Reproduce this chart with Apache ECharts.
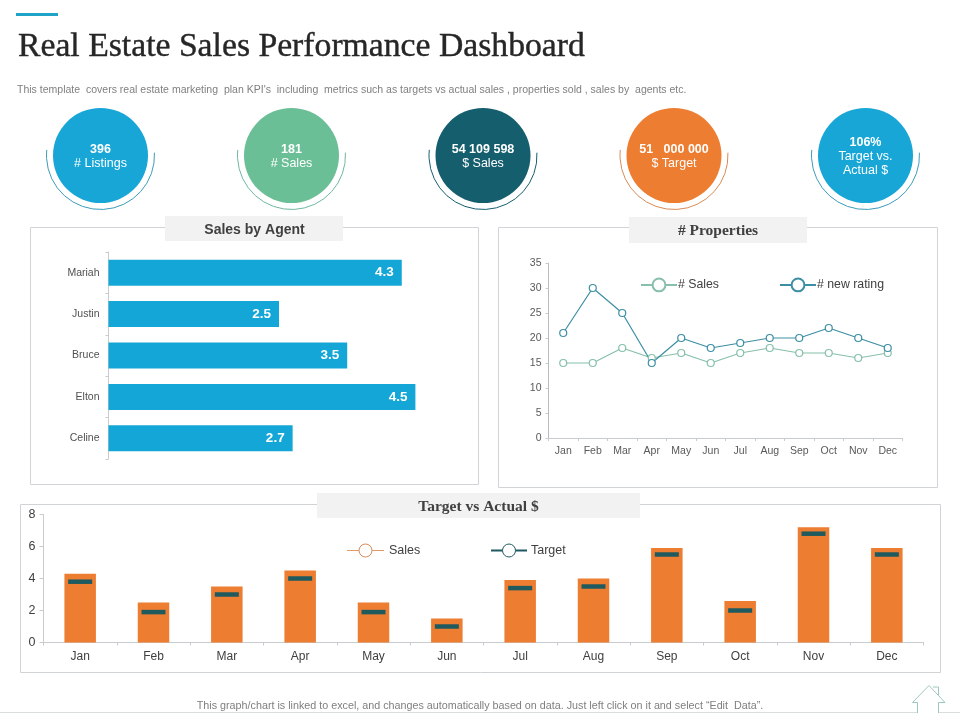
<!DOCTYPE html>
<html><head><meta charset="utf-8">
<style>html,body{margin:0;padding:0;background:#fff}#c{width:960px;height:720px}</style>
<script src="https://cdn.jsdelivr.net/npm/echarts@6/dist/echarts.min.js"></script>
</head><body><div id="c"></div>
<script>
const months = ['Jan','Feb','Mar','Apr','May','Jun','Jul','Aug','Sep','Oct','Nov','Dec'];
const agents = ['Mariah','Justin','Bruce','Elton','Celine'];
const agentSales = [4.3,2.5,3.5,4.5,2.7];
const propSales = [15,15,18,16,17,15,17,18,17,17,16,17];
const propRating = [21,30,25,15,20,18,19,20,20,22,20,18];
const monthSales = [4.3,2.5,3.5,4.5,2.5,1.5,3.9,4.0,5.9,2.6,7.2,5.9];
const monthTarget = [3.8,1.9,3.0,4.0,1.9,1.0,3.4,3.5,5.5,2.0,6.8,5.5];
const kpis = [
  {x:100.5,bold:'396',lines:['# Listings'],color:'#17a6d6',arc:'#3b9bb8'},
  {x:291.5,bold:'181',lines:['# Sales'],color:'#6bbf96',arc:'#6fb7a0'},
  {x:483,bold:'54 109 598',lines:['$ Sales'],color:'#155e6e',arc:'#155e6e'},
  {x:674,bold:'51   000 000',lines:['$ Target'],color:'#ed7d31',arc:'#d98a55'},
  {x:865.5,bold:'106%',lines:['Target vs.','Actual $'],color:'#17a6d6',arc:'#3b9bb8'}
];
const SANS='"Liberation Sans",Arial,sans-serif', SERIF='"Liberation Serif",serif';
const g=[];
const rect=(x,y,w,h,fill,stroke)=>g.push({type:'rect',shape:{x,y,width:w,height:h},style:{fill:fill||'none',stroke:stroke||null,lineWidth:1},silent:true});
const text=(x,y,t,font,fill,align,extra)=>g.push({type:'text',x,y,style:Object.assign({text:t,font,fill,textAlign:align||'left',textVerticalAlign:'middle'},extra||{}),silent:true});
const line=(x1,y1,x2,y2,stroke,w)=>g.push({type:'line',shape:{x1,y1,x2,y2},style:{stroke,lineWidth:w||1},silent:true});
const ring=(cx,cy,r,stroke)=>g.push({type:'circle',shape:{cx,cy,r},style:{fill:'#fff',stroke,lineWidth:1},silent:true});

rect(16,13,42,3,'#1fa3c6');
text(18,47,'Real Estate Sales Performance Dashboard','33.7px '+SERIF,'#262626','left',{stroke:'#262626',lineWidth:0.4});
text(17,90.5,"This template  covers real estate marketing  plan KPI's  including  metrics such as targets vs actual sales , properties sold , sales by  agents etc.",'10.53px '+SANS,'#7f7f7f');

kpis.forEach(k=>{
  g.push({type:'arc',shape:{cx:k.x,cy:155.5,r:54,startAngle:-3*Math.PI/180,endAngle:186*Math.PI/180,clockwise:true},style:{fill:'none',stroke:k.arc,lineWidth:1},silent:true});
  g.push({type:'circle',shape:{cx:k.x,cy:155.5,r:47.5},style:{fill:k.color},silent:true});
  const y0=k.lines.length===2?143:150;
  text(k.x,y0,k.bold,'bold 12.5px '+SANS,'#fff','center');
  k.lines.forEach((l,i)=>text(k.x,y0+13.7*(i+1),l,'12.5px '+SANS,'#fff','center'));
});

rect(30.5,227.5,448,257,null,'#d0d4d6');
rect(498.5,227.5,439,260,null,'#d0d4d6');
rect(20.5,504.5,920,168,null,'#d0d4d6');
rect(165,216,178,25,'#f2f2f2');
rect(629,217,178,26,'#f2f2f2');
rect(317,493,323,25,'#f2f2f2');
text(254.5,230,'Sales by Agent','bold 14px '+SANS,'#404040','center');
text(718,230.5,'# Properties','bold 15.5px '+SERIF,'#404040','center');
text(478.5,506.5,'Target vs Actual $','bold 15.5px '+SERIF,'#404040','center');

// hand-drawn keys of the lower chart
line(347,550.5,384,550.5,'#e09a68',1); ring(365.5,550.5,6.5,'#d98a55');
text(389,551,'Sales','12.5px '+SANS,'#404040');
line(491,550.5,527,550.5,'#1f5a62',2); ring(509,550.5,6.5,'#1f5a62');
text(531,551,'Target','12.5px '+SANS,'#404040');

text(480,706.5,'This graph/chart is linked to excel, and changes automatically based on data. Just left click on it and select \u201cEdit  Data\u201d.','10.75px '+SANS,'#7f7f7f','center');
line(0,712.5,960,712.5,'#d9dddd',1);
g.push({type:'polyline',shape:{points:[[917.5,713],[917.5,702.5],[912.5,702.5],[929,685.5],[945,702.5],[938.5,702.5],[938.5,713]]},style:{fill:'#fff',stroke:'#9cc8bf',lineWidth:1},silent:true});
g.push({type:'polyline',shape:{points:[[933,687],[938.5,687],[938.5,695]]},style:{fill:'none',stroke:'#9cc8bf',lineWidth:1},silent:true});

const axLine={lineStyle:{color:'#c8ccce',width:1}};
const tick=(len)=>({show:true,length:len,lineStyle:{color:'#c8ccce',width:1}});
const lineSer=(name,data,color)=>({name,type:'line',xAxisIndex:1,yAxisIndex:1,data,symbol:'circle',symbolSize:7,
  lineStyle:{color,width:1.2},itemStyle:{color:'#fff',borderColor:color,borderWidth:1.2},z:3});
const option={
  animation:false,
  textStyle:{fontFamily:SANS},
  graphic:{elements:g},
  grid:[
    {left:108.5,top:252,width:341,height:207},
    {left:548.5,top:263,width:354,height:175},
    {left:43.5,top:514.5,width:880,height:128}
  ],
  legend:{left:635,top:272.5,itemWidth:36,itemHeight:16,itemGap:60,
    lineStyle:{width:2},
    textStyle:{fontSize:12.3,color:'#404040',padding:[0,0,0,-4]},
    data:['# Sales','# new rating']},
  xAxis:[
    {gridIndex:0,type:'value',min:0,max:5,show:false},
    {gridIndex:1,type:'category',data:months,axisLine:axLine,axisTick:tick(3),
      axisLabel:{fontSize:10.5,color:'#595959',margin:8,interval:0}},
    {gridIndex:2,type:'category',data:months,axisLine:axLine,axisTick:tick(3),
      axisLabel:{fontSize:12,color:'#404040',margin:8,interval:0}}
  ],
  yAxis:[
    {gridIndex:0,type:'category',inverse:true,data:agents,axisLine:axLine,axisTick:tick(3),
      axisLabel:{fontSize:10.5,color:'#505050',margin:9}},
    {gridIndex:1,type:'value',min:0,max:35,interval:5,axisLine:{show:true,lineStyle:{color:'#b8bcbe'}},axisTick:tick(3),splitLine:{show:false},
      axisLabel:{fontSize:10.5,color:'#595959',margin:7}},
    {gridIndex:2,type:'value',min:0,max:8,interval:2,axisLine:{show:true,lineStyle:{color:'#c8ccce'}},axisTick:tick(4),splitLine:{show:false},
      axisLabel:{fontSize:12.5,color:'#404040',margin:8}}
  ],
  series:[
    {name:'Agent sales',type:'bar',xAxisIndex:0,yAxisIndex:0,data:agentSales,barWidth:26,itemStyle:{color:'#14a6d6'},
      label:{show:true,position:'insideRight',distance:8,formatter:p=>p.value.toFixed(1),color:'#fff',fontWeight:'bold',fontSize:13.5,fontFamily:SANS}},
    lineSer('# Sales',propSales,'#86c0a8'),
    lineSer('# new rating',propRating,'#3c8fa3'),
    {name:'Sales',type:'bar',xAxisIndex:2,yAxisIndex:2,data:monthSales,barWidth:31.5,itemStyle:{color:'#ed7d31'}},
    {name:'Target',type:'scatter',xAxisIndex:2,yAxisIndex:2,data:monthTarget,symbol:'rect',symbolSize:[24,4.5],itemStyle:{color:'#1f5a5e',opacity:1},z:4}
  ]
};
echarts.init(document.getElementById('c'),null,{renderer:'canvas'}).setOption(option);
</script></body></html>
